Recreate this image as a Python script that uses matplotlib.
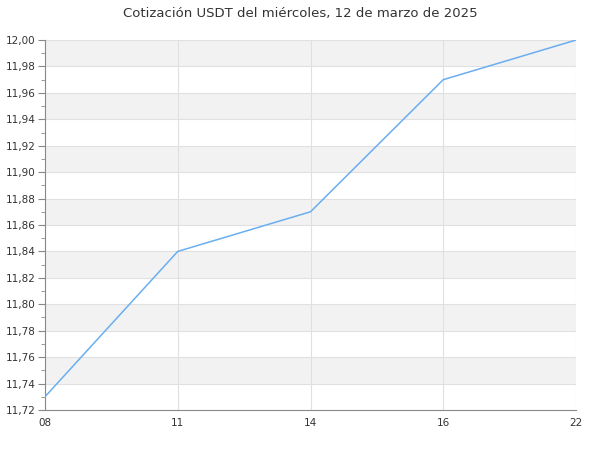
import matplotlib.pyplot as plt
from matplotlib.ticker import MultipleLocator, FuncFormatter

# Data
hours = ['08', '11', '14', '16', '22']
prices = [11.73, 11.84, 11.87, 11.97, 12.00]

fig = plt.figure(figsize=(6, 4.5), dpi=100)
ax = fig.add_axes([0.075, 0.089, 0.885, 0.822])

x = list(range(len(hours)))
ax.plot(x, prices, color='#6aaef0', linewidth=1.1, zorder=3)

ax.set_xlim(0, len(hours) - 1)
ax.set_ylim(11.72, 12.00)
ax.set_xticks(x)
ax.set_xticklabels(hours)

# alternating bands
y = 11.74
while y < 12.0:
    ax.axhspan(y, y + 0.02, color='#f2f2f2', zorder=0, linewidth=0)
    y += 0.04

ax.yaxis.set_major_locator(MultipleLocator(0.02))
ax.yaxis.set_minor_locator(MultipleLocator(0.01))
ax.yaxis.set_major_formatter(FuncFormatter(lambda v, p: f'{v:.2f}'.replace('.', ',')))
ax.grid(True, which='major', color='#e0e0e0', linewidth=0.8, zorder=1)

for side in ['top', 'right']:
    ax.spines[side].set_visible(False)
for side in ['left', 'bottom']:
    ax.spines[side].set_color('#888888')

ax.tick_params(axis='y', which='major', length=5, color='#888888', labelsize=7.5, labelcolor='#333333', pad=2)
ax.tick_params(axis='y', which='minor', length=3, color='#888888')
ax.tick_params(axis='x', length=0, labelsize=7.5, labelcolor='#333333', pad=6)

fig.suptitle('Cotización USDT del miércoles, 12 de marzo de 2025', y=0.985, fontsize=9.5, color='#333333')

plt.savefig('out.png', dpi=100)
